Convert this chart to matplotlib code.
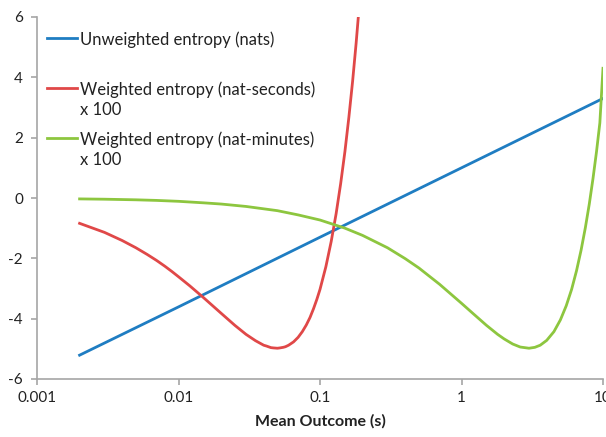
import matplotlib.pyplot as plt

plt.rcParams['font.family'] = ['Lato', 'DejaVu Sans']
plt.rcParams['axes.unicode_minus'] = False

# mean outcome (s) and entropies
x_unw = [0.002, 0.01, 0.1, 1, 10]
y_unw = [-5.21, -3.61, -1.30, 1.00, 3.30]

x_sec = [0.002, 0.003, 0.004, 0.005, 0.006, 0.007, 0.008, 0.009, 0.01, 0.012,
         0.015, 0.02, 0.025, 0.03, 0.035, 0.04, 0.042, 0.045, 0.047, 0.05,
         0.052, 0.055, 0.057, 0.06, 0.065, 0.07, 0.075, 0.08, 0.085, 0.09,
         0.095, 0.1, 0.11, 0.12, 0.13, 0.14, 0.15, 0.16, 0.17, 0.18, 0.19]
y_sec = [-0.84, -1.14, -1.41, -1.65, -1.87, -2.07, -2.26, -2.44, -2.61, -2.91,
         -3.30, -3.82, -4.22, -4.52, -4.73, -4.88, -4.91, -4.96, -4.97, -4.98,
         -4.97, -4.95, -4.93, -4.88, -4.77, -4.62, -4.43, -4.21, -3.96, -3.67,
         -3.36, -3.03, -2.28, -1.44, -0.52, 0.48, 1.54, 2.68, 3.87, 5.13, 6.45]

x_min = [0.002, 0.003, 0.005, 0.007, 0.01, 0.015, 0.02, 0.03, 0.05, 0.07,
         0.1, 0.15, 0.2, 0.3, 0.4, 0.5, 0.7, 1, 1.2, 1.5, 1.8, 2, 2.3, 2.6,
         3, 3.3, 3.6, 4, 4.5, 5, 5.5, 6, 6.5, 7, 7.5, 8, 8.5, 9, 9.5, 10]
y_min = [-0.03, -0.04, -0.06, -0.08, -0.11, -0.16, -0.20, -0.28, -0.42, -0.56,
         -0.73, -1.00, -1.24, -1.65, -2.01, -2.32, -2.86, -3.49, -3.82, -4.22,
         -4.52, -4.67, -4.84, -4.94, -4.98, -4.95, -4.88, -4.72, -4.43, -4.04,
         -3.57, -3.03, -2.41, -1.73, -0.99, -0.20, 0.65, 1.54, 2.49, 4.3]

labels = ['Unweighted entropy (nats)',
          'Weighted entropy (nat-seconds)\nx 100',
          'Weighted entropy (nat-minutes)\nx 100']
colors = ['#1f7dc2', '#e04848', '#8dc63f']

fig = plt.figure(figsize=(6.06, 4.37), dpi=100)
ax = fig.add_axes([37/606, 1 - 379/437, 566/606, 362/437])

ax.plot(x_unw, y_unw, color=colors[0], lw=2.0)
ax.plot(x_sec, y_sec, color=colors[1], lw=2.0)
ax.plot(x_min, y_min, color=colors[2], lw=2.0)

ax.set_xscale('log')
ax.set_xlim(0.001, 10)
ax.set_ylim(-6, 6)
ax.set_xticks([0.001, 0.01, 0.1, 1, 10])
ax.set_xticklabels(['0.001', '0.01', '0.1', '1', '10'])
ax.set_yticks([-6, -4, -2, 0, 2, 4, 6])
ax.minorticks_off()

ax.spines['right'].set_color('none')
ax.spines['top'].set_color('none')
for s in ['left', 'bottom']:
    ax.spines[s].set_color('#a6a6a6')
    ax.spines[s].set_linewidth(1.2)
ax.tick_params(colors='#a6a6a6', labelcolor='#222222', length=4, width=1.2,
               labelsize=11)
ax.tick_params(axis='y', pad=6)
ax.tick_params(axis='x', pad=5)

ax.set_xlabel('Mean Outcome (s)', fontsize=11.5, fontweight='bold',
              color='#222222', labelpad=6)

# legend drawn by hand, handle next to the first line of each label
rows = [0.942, 0.804, 0.666]
for c, lab, yy in zip(colors, labels, rows):
    ax.plot([0.017, 0.070], [yy, yy], color=c, lw=2.0, transform=ax.transAxes,
            clip_on=False)
    ax.text(0.076, yy + 0.019, lab, transform=ax.transAxes, fontsize=12,
            va='top', ha='left', color='#222222', linespacing=1.35)

fig.savefig('out.png', dpi=100)
